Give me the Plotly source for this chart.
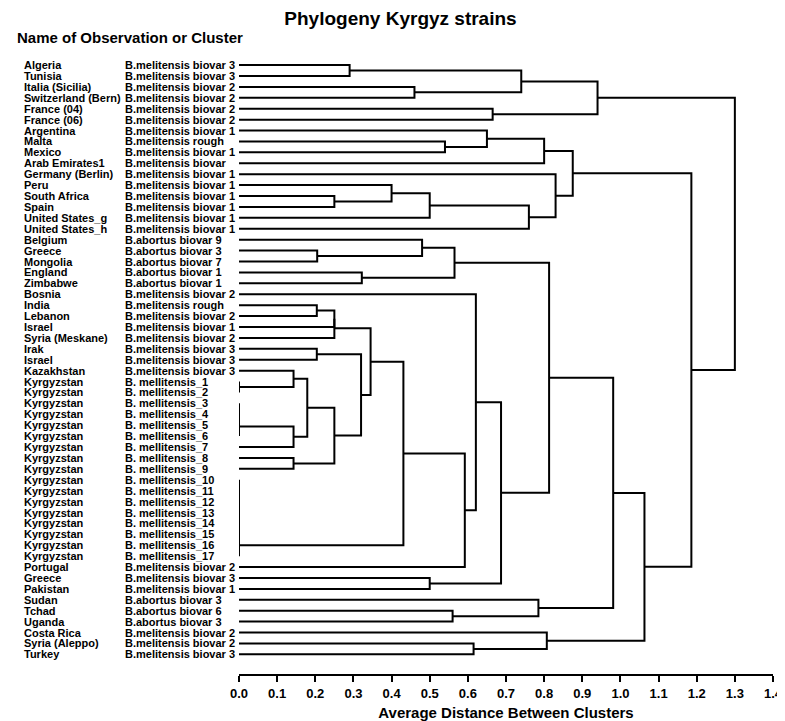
import plotly.graph_objects as go

countries = ["Algeria", "Tunisia", "Italia (Sicilia)", "Switzerland (Bern)", "France (04)", "France (06)",
             "Argentina", "Malta", "Mexico", "Arab Emirates1", "Germany (Berlin)", "Peru", "South Africa",
             "Spain", "United States_g", "United States_h", "Belgium", "Greece", "Mongolia", "England",
             "Zimbabwe", "Bosnia", "India", "Lebanon", "Israel", "Syria (Meskane)", "Irak", "Israel",
             "Kazakhstan"] + ["Kyrgyzstan"] * 17 + ["Portugal", "Greece", "Pakistan", "Sudan", "Tchad",
             "Uganda", "Costa Rica", "Syria (Aleppo)", "Turkey"]

strains = ["B.melitensis biovar 3", "B.melitensis biovar 3", "B.melitensis biovar 2", "B.melitensis biovar 2",
           "B.melitensis biovar 2", "B.melitensis biovar 2", "B.melitensis biovar 1", "B.melitensis rough",
           "B.melitensis biovar 1", "B.melitensis biovar", "B.melitensis biovar 1", "B.melitensis biovar 1",
           "B.melitensis biovar 1", "B.melitensis biovar 1", "B.melitensis biovar 1", "B.melitensis biovar 1",
           "B.abortus biovar 9", "B.abortus biovar 3", "B.abortus biovar 7", "B.abortus biovar 1",
           "B.abortus biovar 1", "B.melitensis biovar 2", "B.melitensis rough", "B.melitensis biovar 2",
           "B.melitensis biovar 1", "B.melitensis biovar 2", "B.melitensis biovar 3", "B.melitensis biovar 3",
           "B.melitensis biovar 3"] + ["B. mellitensis_%d" % k for k in range(1, 18)] + [
           "B.melitensis biovar 2", "B.melitensis biovar 3", "B.melitensis biovar 1", "B.abortus biovar 3",
           "B.abortus biovar 6", "B.abortus biovar 3", "B.melitensis biovar 2", "B.melitensis biovar 2",
           "B.melitensis biovar 3"]

# Linkage: ids < 55 are leaves, id 55+k is the cluster formed by merge k
merge_left = [0, 2, 55, 4, 57, 7, 6, 61, 12, 11, 64, 65, 10, 62, 17, 16, 19, 70, 22, 73, 74, 26,
              29, 28, 31, 79, 80, 81, 78, 36, 83, 76, 75, 38, 88, 89, 90, 91, 92, 93, 87, 95, 21,
              47, 97, 72, 50, 49, 100, 53, 52, 103, 68, 59]
merge_right = [1, 3, 56, 5, 58, 8, 60, 9, 13, 63, 14, 15, 66, 67, 18, 69, 20, 71, 23, 24, 25, 27,
               30, 77, 32, 33, 34, 35, 82, 37, 84, 85, 86, 39, 40, 41, 42, 43, 44, 45, 94, 46, 96,
               48, 98, 99, 51, 101, 102, 54, 104, 105, 106, 107]
merge_height = [0.29, 0.46, 0.74, 0.665, 0.94, 0.54, 0.65, 0.80, 0.25, 0.40, 0.50, 0.76, 0.83, 0.875,
                0.205, 0.48, 0.322, 0.565, 0.204, 0.25, 0.25, 0.204,
                0.0, 0.143, 0.0, 0.0, 0.0, 0.143, 0.179, 0.143, 0.25, 0.32, 0.345,
                0.0, 0.0, 0.0, 0.0, 0.0, 0.0, 0.0, 0.431, 0.592, 0.621,
                0.50, 0.687, 0.813, 0.56, 0.785, 0.981, 0.615, 0.807, 1.063, 1.186, 1.30]

tick_values = [round(0.1 * k, 1) for k in range(15)]
tick_labels = ["%.1f" % v for v in tick_values]

n = len(countries)
node_x = {i: 0.0 for i in range(n)}
node_y = {i: float(i) for i in range(n)}
xs, ys = [], []
for k, (a, b, h) in enumerate(zip(merge_left, merge_right, merge_height)):
    xs += [node_x[a], h, h, node_x[b], None]
    ys += [node_y[a], node_y[a], node_y[b], node_y[b], None]
    node_x[n + k] = h
    node_y[n + k] = (node_y[a] + node_y[b]) / 2

FONT = "Liberation Sans, Arial, sans-serif"
fig = go.Figure()
fig.add_trace(go.Scatter(x=xs, y=ys, mode="lines", line=dict(color="black", width=2),
                         hoverinfo="skip", showlegend=False, cliponaxis=False))

L, R, T, B = 231, 10, 41, 46
W, H = 785, 721
pw = W - L - R
ph = H - T - B
annotations = []
for i in range(n):
    annotations.append(dict(x=(10 - L) / pw, y=i, xref="paper", yref="y", text=countries[i],
                            showarrow=False, xanchor="left", yanchor="middle",
                            font=dict(family=FONT, size=11, color="black", weight="bold")))
    annotations.append(dict(x=(113 - L) / pw, y=i, xref="paper", yref="y", text=strains[i],
                            showarrow=False, xanchor="left", yanchor="middle",
                            font=dict(family=FONT, size=11, color="black", weight="bold")))
annotations.append(dict(x=(3 - L) / pw, y=1 + (T - 29) / ph, xref="paper", yref="paper",
                        text="Name of Observation or Cluster", showarrow=False,
                        xanchor="left", yanchor="middle",
                        font=dict(family=FONT, size=15, color="black", weight="bold")))

fig.update_layout(
    width=W, height=H, margin=dict(l=L, r=R, t=T, b=B),
    paper_bgcolor="white", plot_bgcolor="white",
    title=dict(text="Phylogeny Kyrgyz strains", x=0.5, xanchor="center", y=1 - 10 / H, yanchor="middle",
               font=dict(family=FONT, size=19, color="black", weight="bold")),
    xaxis=dict(range=[0, 1.4], tickvals=tick_values, ticktext=tick_labels, showgrid=False, zeroline=False,
               showline=True, linecolor="black", linewidth=2, ticks="outside", ticklen=6, tickwidth=2,
               tickcolor="black", tickfont=dict(family=FONT, size=13, color="black", weight="bold"),
               title=dict(text="Average Distance Between Clusters", standoff=8,
                          font=dict(family=FONT, size=15, color="black", weight="bold"))),
    yaxis=dict(range=[(675 - 57.3) / 11.07, -(57.3 - T) / 11.07], visible=False, showgrid=False,
               zeroline=False),
    annotations=annotations,
)
fig.write_html("out.html")
